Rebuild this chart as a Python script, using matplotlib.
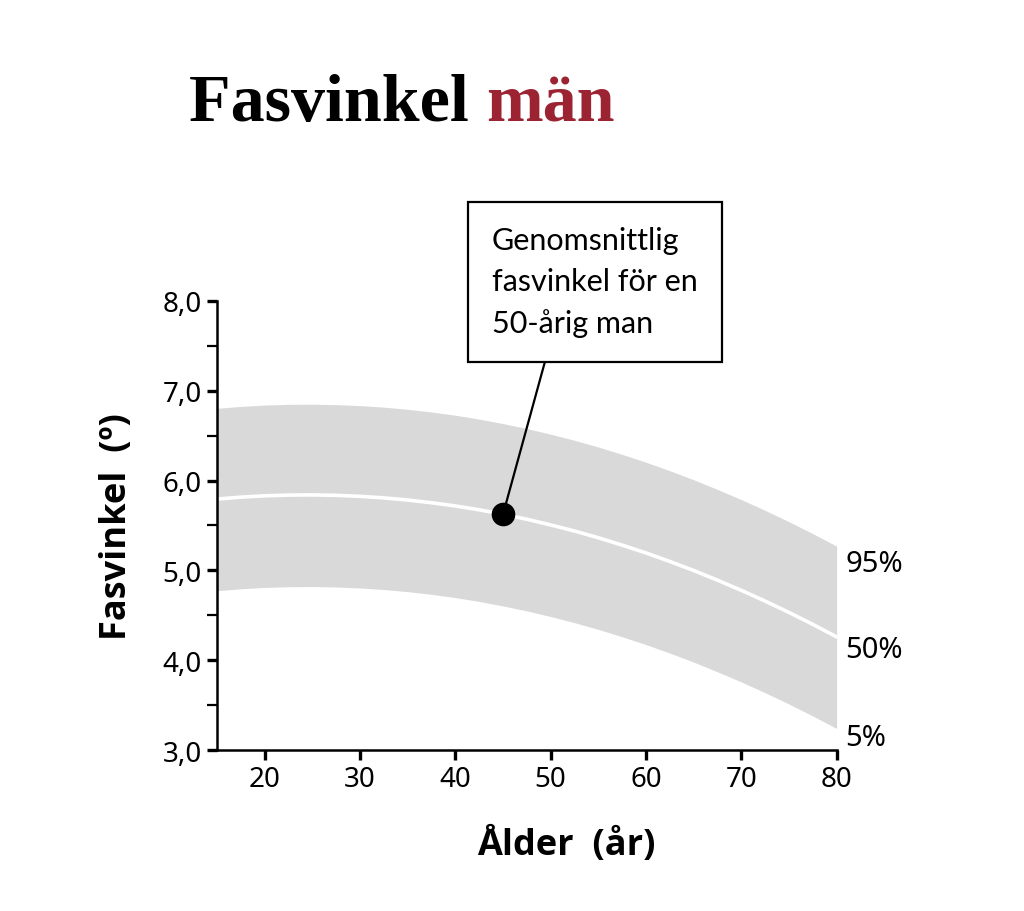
import matplotlib.pyplot as plt
from matplotlib.ticker import MultipleLocator, FuncFormatter

# age (years) and phase angle percentiles (degrees)
age = [15, 17.5, 20, 22.5, 25, 27.5, 30, 32.5, 35, 37.5, 40, 42.5, 45, 47.5,
       50, 52.5, 55, 57.5, 60, 62.5, 65, 67.5, 70, 72.5, 75, 77.5, 80]
p50 = [5.794, 5.815, 5.830, 5.838, 5.840, 5.835, 5.824, 5.807, 5.783, 5.753, 5.717, 5.674,
       5.624, 5.569, 5.506, 5.438, 5.363, 5.281, 5.194, 5.099, 4.999, 4.891, 4.778, 4.658,
       4.532, 4.399, 4.260]
p95 = [6.804, 6.825, 6.840, 6.848, 6.850, 6.845, 6.834, 6.817, 6.793, 6.763, 6.727, 6.684,
       6.634, 6.579, 6.516, 6.448, 6.373, 6.291, 6.204, 6.109, 6.009, 5.901, 5.788, 5.668,
       5.542, 5.409, 5.270]
p05 = [4.774, 4.795, 4.810, 4.818, 4.820, 4.815, 4.804, 4.787, 4.763, 4.733, 4.697, 4.654,
       4.604, 4.549, 4.486, 4.418, 4.343, 4.261, 4.174, 4.079, 3.979, 3.871, 3.758, 3.638,
       3.512, 3.379, 3.240]

# highlighted point: average 50-year-old man
point_age = 45
point_val = 5.624

percentile_labels = ["95%", "50%", "5%"]
label_y = [5.08, 4.12, 3.14]

fig = plt.figure(figsize=(10.24, 9.12), dpi=100)
ax = fig.add_axes([0.212, 0.1765, 0.605, 0.4925])

ax.fill_between(age, p05, p95, color="#d9d9d9", linewidth=0)
ax.plot(age, p50, color="white", linewidth=2.6)
ax.plot([point_age], [point_val], "o", color="black", markersize=16, zorder=5)

ax.set_xlim(15, 80)
ax.set_ylim(3, 8)
ax.spines["top"].set_visible(False)
ax.spines["right"].set_visible(False)
for s in ["left", "bottom"]:
    ax.spines[s].set_linewidth(1.8)
ax.set_xticks([20, 30, 40, 50, 60, 70, 80])
ax.yaxis.set_major_locator(MultipleLocator(1))
ax.yaxis.set_minor_locator(MultipleLocator(0.5))
ax.yaxis.set_major_formatter(FuncFormatter(lambda v, p: f"{v:.1f}".replace(".", ",")))
ax.tick_params(axis="both", which="major", direction="out", length=7, width=2.4,
               labelsize=20, pad=4)
ax.tick_params(axis="y", which="minor", direction="out", length=7, width=1.6)
for lab in ax.get_xticklabels() + ax.get_yticklabels():
    lab.set_fontfamily("Noto Sans")

ax.set_xlabel("Ålder  (år)", fontsize=26, fontweight="bold", family="Open Sans")
ax.xaxis.set_label_coords(0.563, -0.17)
ax.set_ylabel("Fasvinkel  (º)", fontsize=26, fontweight="bold", family="Open Sans", labelpad=20)

# percentile labels at right end of curves
for lab, yy in zip(percentile_labels, label_y):
    ax.text(80.9, yy, lab, fontsize=21, family="Noto Sans",
            va="center", ha="left", clip_on=False)

# annotation box
ax.annotate("Genomsnittlig\nfasvinkel för en\n50-årig man",
            xy=(point_age, point_val), xytext=(0.4805, 0.690), textcoords="figure fraction",
            fontsize=22, family="Lato", linespacing=1.55, va="center", ha="left",
            bbox=dict(boxstyle="square,pad=0.8", fc="white", ec="black", lw=1.6),
            arrowprops=dict(arrowstyle="-", color="black", lw=1.6, shrinkA=0, shrinkB=0,
                            relpos=(0.29, 0)))

# title
t1 = fig.text(0.185, 0.885, "Fasvinkel ", fontsize=49, fontweight="bold",
              family="Liberation Serif", va="center", ha="left")
fig.canvas.draw()
bb = t1.get_window_extent()
fig.text(bb.x1 / fig.bbox.width, 0.885, "män", fontsize=49, fontweight="bold",
         family="Liberation Serif", color="#9b2332", va="center", ha="left")

plt.savefig("out.png", dpi=100)
